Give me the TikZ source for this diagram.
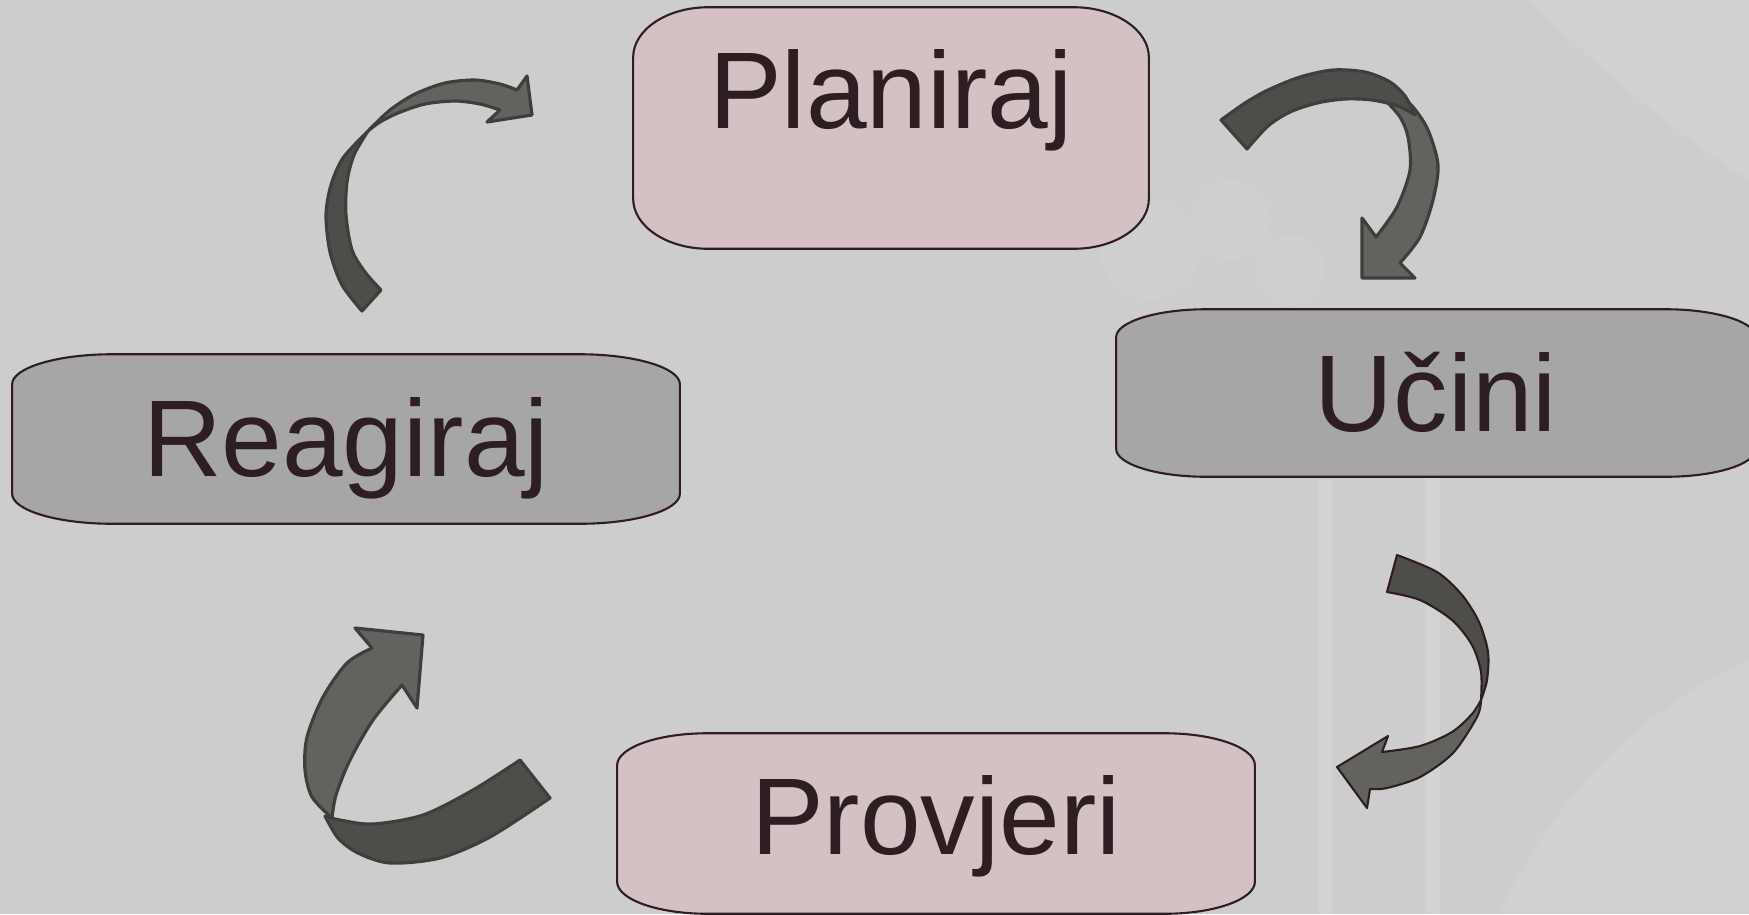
\documentclass[tikz,border=0pt]{standalone}
\usepackage{fontspec}
\setmainfont{Liberation Sans}
\usetikzlibrary{backgrounds}

\definecolor{canvasgray}{HTML}{CDCDCD}
\definecolor{rosefill}{HTML}{D3C1C4}
\definecolor{greyfill}{HTML}{A6A6A6}
\definecolor{inkbrown}{HTML}{2D1F21}
\definecolor{ribbondark}{HTML}{4E4E49}
\definecolor{ribbonlight}{HTML}{63635E}
\definecolor{ribbonedge}{HTML}{3E3E3A}

% outline of a box with soft, flat corners round node #1
\newcommand{\softbox}[3]{([xshift=#2]#1.north west) -- ([xshift=-#2]#1.north east)
  .. controls ([xshift=-0.45*#2]#1.north east) and ([yshift=-0.45*#3]#1.north east) .. ([yshift=-#3]#1.north east)
  -- ([yshift=#3]#1.south east)
  .. controls ([yshift=0.45*#3]#1.south east) and ([xshift=-0.45*#2]#1.south east) .. ([xshift=-#2]#1.south east)
  -- ([xshift=#2]#1.south west)
  .. controls ([xshift=0.45*#2]#1.south west) and ([yshift=0.45*#3]#1.south west) .. ([yshift=#3]#1.south west)
  -- ([yshift=-#3]#1.north west)
  .. controls ([yshift=-0.45*#3]#1.north west) and ([xshift=0.45*#2]#1.north west) .. ([xshift=#2]#1.north west) -- cycle}

\begin{document}
\begin{tikzpicture}[
		x=0.01cm, y=-0.01cm,
		stage/.style={inner sep=0pt, text=inkbrown, font=\fontsize{31}{37}\selectfont},
		boxline/.style={draw=inkbrown, line width=0.6pt},
		ribbon/.style={draw=ribbonedge, line width=0.9pt, line join=round},
	]
		\useasboundingbox (0,0) rectangle (1749,914);
		
		\node[stage, minimum width=5.14cm, text height=1.20cm, text depth=1.20cm] (plan) at (891,128) {Planiraj};
		\node[stage, minimum width=6.38cm, text height=1.21cm, text depth=0.45cm] (ucin) at (1436,393) {Učini};
		\node[stage, minimum width=6.36cm, text height=1.20cm, text depth=0.59cm] (prov) at (936,823.5) {Provjeri};
		\node[stage, minimum width=6.66cm, text height=1.21cm, text depth=0.47cm] (reag) at (346,439) {Reagiraj};
		
		\begin{scope}[on background layer]
			\fill[canvasgray] (0,0) rectangle (1749,914);
			% faint pattern on the right
			\fill[white, opacity=0.12] (1318,480) rectangle (1332,914);
			\fill[white, opacity=0.12] (1425,470) rectangle (1440,914);
			\fill[white, opacity=0.09] (1500,914) .. controls (1560,780) and (1660,700) .. (1749,660) -- (1749,914) -- cycle;
			\fill[white, opacity=0.09] (1530,0) .. controls (1620,90) and (1700,150) .. (1749,180) -- (1749,0) -- cycle;
			\fill[white, opacity=0.05] (1150,250) circle (50) (1230,220) circle (40) (1290,270) circle (35);
			
			\path[boxline, fill=rosefill] \softbox{plan}{0.75cm}{0.5cm};
			\path[boxline, fill=greyfill] \softbox{ucin}{0.9cm}{0.28cm};
			\path[boxline, fill=rosefill] \softbox{prov}{0.9cm}{0.32cm};
			\path[boxline, fill=greyfill] \softbox{reag}{1.0cm}{0.3cm};
		\end{scope}
		
		% Reagiraj -> Planiraj
		\filldraw[ribbon, fill=ribbondark] (381,290) -- (362,311)
			-- plot[smooth] coordinates {(362,311) (342,285) (330,252) (326,215) (331,185) (343,158) (368,131)}
			-- plot[smooth] coordinates {(368,131) (354,155) (347,182) (346,215) (352,250) (365,272) (381,290)} -- cycle;
		\filldraw[ribbon, fill=ribbonlight]
			plot[smooth] coordinates {(368,131) (390,110) (415,94) (445,83) (475,80) (500,84) (517,90)}
			-- (527,76) -- (532,115) -- (487,122) -- (500,110)
			-- plot[smooth] coordinates {(500,110) (480,104) (455,101) (425,104) (398,113) (380,122) (368,131)} -- cycle;
		
		% Planiraj -> Ucini
		\filldraw[ribbon, fill=ribbonlight]
			plot[smooth] coordinates {(1395,90) (1413,107) (1428,130) (1438,165) (1433,200) (1420,237) (1400,263)}
			-- (1415,278) -- (1362,278) -- (1362,218) -- (1376,237)
			-- plot[smooth] coordinates {(1376,237) (1397,207) (1410,170) (1408,137) (1400,117) (1385,100)} -- cycle;
		\filldraw[ribbon, fill=ribbondark]
			plot[smooth] coordinates {(1221,120) (1245,103) (1268,90) (1300,77) (1333,70) (1365,72) (1390,82) (1405,96) (1415,115)}
			-- plot[smooth] coordinates {(1415,115) (1398,106) (1372,100) (1345,99) (1317,103) (1290,112) (1268,126) (1247,149)} -- cycle;
		
		% Ucini -> Provjeri
		\filldraw[ribbon, draw=inkbrown, line width=0.6pt, fill=ribbondark]
			plot[smooth] coordinates {(1397,555) (1437,572) (1462,595) (1479,622) (1488,652) (1487,680) (1481,700)}
			-- plot[smooth] coordinates {(1481,700) (1481,672) (1472,645) (1452,620) (1420,600) (1387,592)} -- cycle;
		\filldraw[ribbon, draw=inkbrown, line width=0.6pt, fill=ribbonlight]
			plot[smooth] coordinates {(1481,700) (1477,717) (1453,753) (1420,777) (1387,788) (1370,789)}
			-- (1367,808) -- (1337,767) -- (1388,736) -- (1382,752)
			-- plot[smooth] coordinates {(1382,752) (1420,746) (1452,732) (1472,714) (1481,700)} -- cycle;
		
		% Provjeri -> Reagiraj
		\filldraw[ribbon, fill=ribbonlight]
			plot[smooth] coordinates {(332,818) (312,797) (305,770) (307,737) (323,697) (347,663) (372,648)}
			-- (355,628) -- (423,635) -- (417,708) -- (402,685)
			-- plot[smooth] coordinates {(402,685) (373,720) (350,760) (336,795) (332,818)} -- cycle;
		\filldraw[ribbon, fill=ribbondark]
			plot[smooth] coordinates {(325,816) (338,838) (358,853) (390,863) (440,858) (490,837) (550,798)}
			-- (520,760)
			-- plot[smooth] coordinates {(520,760) (473,790) (423,815) (373,824) (340,820) (325,816)} -- cycle;
	\end{tikzpicture}
\end{document}
